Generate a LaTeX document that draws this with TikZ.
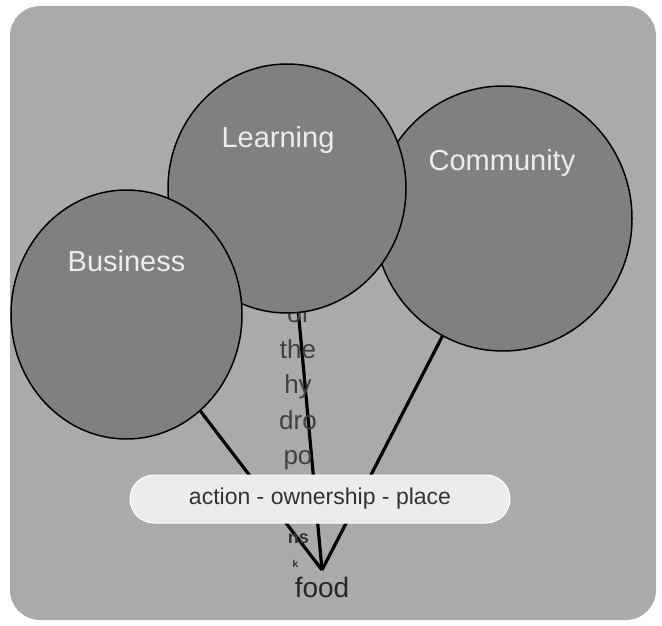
\documentclass[tikz,border=0pt]{standalone}
\usepackage{fontspec}
\setmainfont{Liberation Sans}
\usetikzlibrary{shapes.geometric, positioning}

\definecolor{boardgray}{gray}{0.667}
\definecolor{bubblegray}{gray}{0.5}
\definecolor{namegray}{gray}{0.93}
\definecolor{taggray}{gray}{0.925}
\definecolor{taginkgray}{gray}{0.2}
\definecolor{stemgray}{gray}{0.25}

\tikzset{
  bubble/.style={ellipse, draw=black, line width=1.5pt, fill=bubblegray, inner sep=0pt},
  bubblename/.style={text=namegray, anchor=base, inner sep=0pt, font=\fontsize{29}{32}\selectfont},
  balloonstring/.style={line width=3.2pt, black},
  stemword/.style={text=stemgray, anchor=base, inner sep=0pt, font=\fontsize{26}{30}\selectfont},
  tagbox/.style={rectangle, rounded corners=24pt, draw=white, line width=1pt, fill=taggray,
    minimum width=380pt, minimum height=48pt, text=taginkgray, font=\fontsize{23}{26}\selectfont}
}

\begin{document}
\begin{tikzpicture}[x=1pt,y=-1pt]
\useasboundingbox (0,0) rectangle (662,626);
\fill [white] (0,0) rectangle (662,626);
\fill [boardgray, rounded corners=30pt] (10,6) rectangle (656,620);

\coordinate (bc) at (126.5,314.5);
\coordinate (lc) at (287,188.5);
\coordinate (cc) at (503,218.5);
\coordinate (tie) at (322,570);

\foreach \c in {bc,lc,cc}
  \draw [balloonstring] (tie) -- (\c);

% words running down the stem
\begin{scope}[every node/.style={stemword}]
\foreach \w [count=\i] in {of,the,hy,dro,po} {
  \node (stem\i) at (298,{322.5+35.5*(\i-1)}) {\w};
}
\node [font=\bfseries\fontsize{18}{20}\selectfont, text=black!80] (stem6) at (298.5,543) {ns};
\node [font=\bfseries\fontsize{10}{11}\selectfont, text=black!80] (stem7) at (295.5,567) {k};
\end{scope}

\node [bubble, minimum width=258pt, minimum height=265pt] (community) at (cc) {};
\node [bubble, minimum width=238pt, minimum height=249pt] (learning) at (lc) {};
\node [bubble, minimum width=231pt, minimum height=249pt] (business) at (bc) {};

\node [bubblename] (businessname) at (126.5,271) {Business};
\node [bubblename] (learningname) at (278,147) {Learning};
\node [bubblename] (communityname) at (502,170) {Community};

\node [tagbox] (tag) at (320,499) {action - ownership - place};

\node [anchor=base, inner sep=0pt, font=\fontsize{28}{30}\selectfont, text=black!85] (food) at (322,597) {food};
\end{tikzpicture}
\end{document}
